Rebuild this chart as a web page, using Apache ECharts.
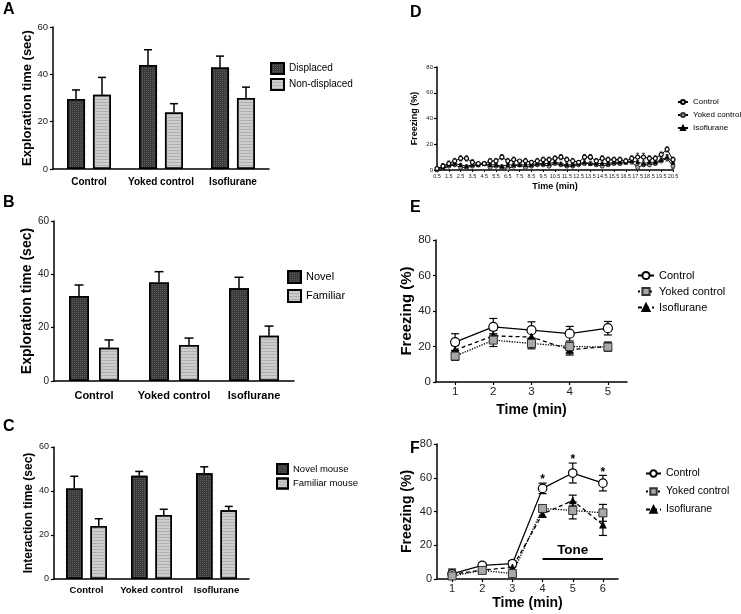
<!DOCTYPE html>
<html><head><meta charset="utf-8">
<script src="https://cdn.jsdelivr.net/npm/echarts@6/dist/echarts.min.js"></script>
<style>html,body{margin:0;padding:0;background:#fff}#c{width:741px;height:614px}</style>
</head><body><div id="c"></div>
<script>
const FONT = '"Liberation Sans", Arial, sans-serif';

// ---- Panels A-C (bar charts) ----
const groupCats = ['Control', 'Yoked control', 'Isoflurane'];
const dispA = [29.6, 43.9, 42.9];
const dispErrA = [3.8, 6.5, 4.8];
const nonA = [31.4, 23.9, 30.0];
const nonErrA = [7.3, 3.7, 4.6];

const novelB = [31.9, 36.9, 34.8];
const novelErrB = [4.1, 4.1, 4.1];
const famB = [12.5, 13.5, 17.0];
const famErrB = [2.9, 2.6, 3.6];

const novelC = [41.1, 46.9, 48.1];
const novelErrC = [5.6, 2.0, 2.9];
const famC = [24.1, 29.1, 31.2];
const famErrC = [3.3, 2.6, 1.8];

// ---- Panel D ----
const timeD = ['0.5','1','1.5','2','2.5','3','3.5','4','4.5','5','5.5','6','6.5','7','7.5','8','8.5','9','9.5','10','10.5','11','11.5','12','12.5','13','13.5','14','14.5','15','15.5','16','16.5','17','17.5','18','18.5','19','19.5','20','20.5'];
const ctrlD = [1,3,5,7,9,9,6,5,5,7,7,10,7,8,7,7,6,7,8,8,9,10,8,7,6,10,10,7,9,8,8,8,7,9,10,10,9,9,12,16,8];
const ctrlErrD = [1,2,2,2,2,2,2,1,1,2,2,2,2,2,1,2,1,2,2,2,2,2,2,2,1,2,2,2,2,2,2,2,2,2,3,3,2,2,2,2,2];
const yokD = [0,1,3,4,2,2,3,4,5,2,3,2,1,3,4,2,3,4,4,3,5,4,3,3,4,5,5,4,3,4,5,5,6,6,2,4,4,5,7,9,3];
const yokErrD = [1,1,1,1,1,1,1,1,1,1,1,1,1,1,1,1,1,1,1,1,1,1,1,1,1,1,1,1,1,1,1,1,1,1,1,1,1,1,1,2,2];
const isoD = [1,2,4,5,4,3,4,4,5,4,4,3,4,4,4,4,4,5,5,5,6,5,4,4,5,6,5,5,5,5,6,6,6,7,6,5,6,6,8,10,6];
const isoErrD = [1,1,1,1,1,1,1,1,1,1,1,1,1,1,1,1,1,1,1,1,1,1,1,1,1,1,1,1,1,1,1,1,1,1,1,1,1,1,1,2,2];

// ---- Panel E ----
const timeE = ['1','2','3','4','5'];
const ctrlE = [22.5, 31.1, 29.2, 27.2, 30.3];
const ctrlErrE = [4.7, 4.7, 4.7, 4.1, 3.8];
const yokE = [14.6, 23.6, 21.7, 20.0, 19.7];
const yokErrE = [2.4, 3.6, 3.0, 2.2, 2.2];
const isoE = [18.0, 26.0, 25.3, 18.2, 20.0];
const isoErrE = [2.5, 3.0, 3.0, 3.0, 2.5];

// ---- Panel F ----
const timeF = ['1','2','3','4','5','6'];
const ctrlF = [3.0, 8.1, 9.1, 53.7, 62.8, 56.8];
const ctrlErrF = [2.9, 1.6, 1.8, 3.1, 5.9, 4.6];
const yokF = [1.8, 5.1, 3.2, 41.8, 40.6, 39.2];
const yokErrF = [1.5, 1.5, 1.5, 2.0, 5.0, 5.0];
const isoF = [2.8, 5.3, 6.9, 38.6, 46.5, 32.1];
const isoErrF = [2.0, 1.5, 3.0, 2.0, 3.2, 6.3];
const starsF = ['', '', '', '*', '*', '*'];
const toneLevel = 12;

const chart = echarts.init(document.getElementById('c'), null, {renderer: 'canvas'});

const darkStyle = {
  color: '#3a3a3a', borderColor: '#000', borderWidth: 1.5,
  decal: {symbol: 'rect', symbolSize: 1, color: 'rgba(255,255,255,0.18)', dashArrayX: [1, 1], dashArrayY: [1, 1], rotation: 0}
};
const lightStyle = {
  color: '#cdcdcd', borderColor: '#000', borderWidth: 1.5,
  decal: {symbol: 'rect', symbolSize: 1, color: 'rgba(120,120,120,0.35)', dashArrayX: [1, 0], dashArrayY: [1, 2], rotation: 0}
};

function errSeries(ai, vals, errs, off, opts) {
  return {
    type: 'custom', xAxisIndex: ai, yAxisIndex: ai, z: opts.z || 3, silent: true,
    data: vals.map((v, i) => [i, v, errs[i]]),
    renderItem: function (params, api) {
      const i = api.value(0), v = api.value(1), e = api.value(2);
      const p = api.coord([i, v]);
      const x = p[0] + off, yv = p[1];
      const yt = api.coord([i, v + e])[1];
      const yb = api.coord([i, v - e])[1];
      const c = opts.cap;
      const st = {stroke: '#000', lineWidth: opts.lw || 1.5};
      const ch = [
        {type: 'line', shape: {x1: x, y1: yv, x2: x, y2: yt}, style: st},
        {type: 'line', shape: {x1: x - c, y1: yt, x2: x + c, y2: yt}, style: st}
      ];
      if (opts.both) {
        ch.push({type: 'line', shape: {x1: x, y1: yv, x2: x, y2: yb}, style: st});
        ch.push({type: 'line', shape: {x1: x - c, y1: yb, x2: x + c, y2: yb}, style: st});
      }
      if (opts.stars && opts.stars[params.dataIndex]) {
        ch.push({type: 'text', style: {text: opts.stars[params.dataIndex], x: x, y: yt + 3, align: 'center', verticalAlign: 'bottom', font: 'bold 12px ' + FONT, fill: '#000'}});
      }
      return {type: 'group', children: ch};
    }
  };
}

const axisLineS = {show: true, lineStyle: {color: '#000', width: 1.5}};
function barX(gi, fs, margin) {
  return {type: 'category', gridIndex: gi, data: groupCats, axisLine: axisLineS, axisTick: {show: false},
    axisLabel: {fontFamily: FONT, fontSize: fs, fontWeight: 'bold', color: '#000', margin: margin, interval: 0}, splitLine: {show: false}};
}
function valY(gi, max, name, nfs, gap, lfs) {
  return {type: 'value', gridIndex: gi, min: 0, max: max, interval: 20, axisLine: axisLineS,
    axisTick: {show: true, length: 3, lineStyle: {color: '#000', width: 1.2}},
    axisLabel: {fontFamily: FONT, fontSize: lfs, color: '#222', margin: 5},
    splitLine: {show: false},
    name: name, nameLocation: 'middle', nameGap: gap,
    nameTextStyle: {fontFamily: FONT, fontSize: nfs, fontWeight: 'bold', color: '#000'}};
}
function timeX(gi, cats, lfs, nfs, gap, boundary, extra) {
  return Object.assign({type: 'category', gridIndex: gi, data: cats, boundaryGap: boundary, axisLine: axisLineS,
    axisTick: {show: true, alignWithLabel: true, length: 3, lineStyle: {color: '#000', width: 1.2}},
    axisLabel: {fontFamily: FONT, fontSize: lfs, color: '#222', margin: 4, interval: 0},
    splitLine: {show: false},
    name: 'Time (min)', nameLocation: 'middle', nameGap: gap,
    nameTextStyle: {fontFamily: FONT, fontSize: nfs, fontWeight: 'bold', color: '#000'}}, extra || {});
}

function lineS(name, ai, data, kind, size, lw) {
  const base = {type: 'line', name: name, xAxisIndex: ai, yAxisIndex: ai, data: data, z: 4,
    showAllSymbol: true, symbolSize: size, silent: true};
  if (kind === 'ctrl') {
    base.symbol = 'circle';
    base.itemStyle = {color: '#fff', borderColor: '#000', borderWidth: 1.2};
    base.lineStyle = {color: '#000', width: lw, type: 'solid'};
  } else if (kind === 'yok') {
    base.symbol = ai === 3 ? 'circle' : 'rect';
    base.itemStyle = {color: '#a8a8a8', borderColor: '#333', borderWidth: 1};
    base.lineStyle = {color: '#000', width: lw, type: ai === 3 ? 'solid' : 'dotted'};
  } else {
    base.symbol = 'triangle';
    base.itemStyle = {color: '#000', borderColor: '#000', borderWidth: 0.5};
    base.lineStyle = {color: '#000', width: lw, type: ai === 3 ? 'solid' : [4, 3]};
  }
  return base;
}

function barLegend(names, left, top, iw, ih, gap, fs) {
  return {data: names, orient: 'vertical', left: left, top: top, itemWidth: iw, itemHeight: ih, itemGap: gap,
    icon: 'rect', padding: 0, selectedMode: false,
    textStyle: {fontFamily: FONT, fontSize: fs, color: '#000'}};
}
function lineLegend(prefix, left, top, iw, ih, gap, fs) {
  return {data: [prefix + ':Control', prefix + ':Yoked control', prefix + ':Isoflurane'],
    formatter: n => n.slice(2), orient: 'vertical', left: left, top: top, itemWidth: iw, itemHeight: ih,
    itemGap: gap, padding: 0, selectedMode: false,
    textStyle: {fontFamily: FONT, fontSize: fs, color: '#000'}};
}

const option = {
  backgroundColor: '#fff',
  animation: false,
  textStyle: {fontFamily: FONT},
  grid: [
    {left: 53, top: 27, width: 216, height: 142, outerBoundsMode: 'none'},
    {left: 54, top: 221, width: 240, height: 160, outerBoundsMode: 'none'},
    {left: 54, top: 447, width: 195, height: 132, outerBoundsMode: 'none'},
    {left: 437, top: 67, width: 236, height: 103, outerBoundsMode: 'none'},
    {left: 436, top: 240, width: 191, height: 142, outerBoundsMode: 'none'},
    {left: 437, top: 444, width: 181, height: 135, outerBoundsMode: 'none'}
  ],
  xAxis: [
    barX(0, 10, 8),
    barX(1, 11, 9),
    barX(2, 9.5, 6),
    timeX(3, timeD, 5.5, 9, 12, false, {axisLabel: {fontFamily: FONT, fontSize: 5.5, color: '#222', margin: 3, interval: 1}, axisTick: {show: true, interval: 1, length: 2, lineStyle: {color: '#000', width: 1}}}),
    timeX(4, timeE, 11.5, 14, 21, true),
    timeX(5, timeF, 11, 14, 17, true)
  ],
  yAxis: [
    valY(0, 60, 'Exploration time (sec)', 13, 19, 9.5),
    valY(1, 60, 'Exploration time (sec)', 14, 17, 10),
    valY(2, 60, 'Interaction time (sec)', 12, 19.5, 9),
    Object.assign(valY(3, 80, 'Freezing (%)', 9, 18, 6), {axisLabel: {fontFamily: FONT, fontSize: 6, color: '#222', margin: 4}}),
    valY(4, 80, 'Freezing (%)', 15, 22, 11.5),
    valY(5, 80, 'Freezing (%)', 14, 23, 11)
  ],
  legend: [
    barLegend(['Displaced', 'Non-displaced'], 270, 62, 13, 11, 3, 10),
    barLegend(['Novel', 'Familiar'], 287, 270, 13, 12, 5, 11),
    barLegend(['Novel mouse', 'Familiar mouse'], 276, 463, 11, 10, 2.5, 9.5),
    lineLegend('D', 677, 98, 10, 5, 5, 8),
    lineLegend('E', 637, 270, 16, 9, 5, 11),
    lineLegend('F', 645, 468, 15, 8, 7, 10.5)
  ],
  graphic: [
    {type: 'text', style: {text: 'A', x: 3, y: 10, verticalAlign: 'middle', font: 'bold 16px ' + FONT, fill: '#000'}},
    {type: 'text', style: {text: 'B', x: 3, y: 202.5, verticalAlign: 'middle', font: 'bold 16px ' + FONT, fill: '#000'}},
    {type: 'text', style: {text: 'C', x: 3, y: 427, verticalAlign: 'middle', font: 'bold 16px ' + FONT, fill: '#000'}},
    {type: 'text', style: {text: 'D', x: 410, y: 13, verticalAlign: 'middle', font: 'bold 16px ' + FONT, fill: '#000'}},
    {type: 'text', style: {text: 'E', x: 410, y: 208, verticalAlign: 'middle', font: 'bold 16px ' + FONT, fill: '#000'}},
    {type: 'text', style: {text: 'F', x: 410, y: 449, verticalAlign: 'middle', font: 'bold 16px ' + FONT, fill: '#000'}}
  ],
  series: [
    // A
    {type: 'bar', name: 'Displaced', xAxisIndex: 0, yAxisIndex: 0, data: dispA, barWidth: 18, barGap: '44%', itemStyle: darkStyle, silent: true},
    {type: 'bar', name: 'Non-displaced', xAxisIndex: 0, yAxisIndex: 0, data: nonA, barWidth: 18, barGap: '44%', itemStyle: lightStyle, silent: true},
    errSeries(0, dispA, dispErrA, -13, {cap: 4}),
    errSeries(0, nonA, nonErrA, 13, {cap: 4}),
    // B
    {type: 'bar', name: 'Novel', xAxisIndex: 1, yAxisIndex: 1, data: novelB, barWidth: 20, barGap: '50%', itemStyle: darkStyle, silent: true},
    {type: 'bar', name: 'Familiar', xAxisIndex: 1, yAxisIndex: 1, data: famB, barWidth: 20, barGap: '50%', itemStyle: lightStyle, silent: true},
    errSeries(1, novelB, novelErrB, -15, {cap: 4.5}),
    errSeries(1, famB, famErrB, 15, {cap: 4.5}),
    // C
    {type: 'bar', name: 'Novel mouse', xAxisIndex: 2, yAxisIndex: 2, data: novelC, barWidth: 16.5, barGap: '48%', itemStyle: darkStyle, silent: true},
    {type: 'bar', name: 'Familiar mouse', xAxisIndex: 2, yAxisIndex: 2, data: famC, barWidth: 16.5, barGap: '48%', itemStyle: lightStyle, silent: true},
    errSeries(2, novelC, novelErrC, -12.25, {cap: 4}),
    errSeries(2, famC, famErrC, 12.25, {cap: 4}),
    // D
    errSeries(3, ctrlD, ctrlErrD, 0, {cap: 1.5, lw: 0.8, both: true, z: 2}),
    errSeries(3, yokD, yokErrD, 0, {cap: 1.5, lw: 0.8, both: true, z: 2}),
    errSeries(3, isoD, isoErrD, 0, {cap: 1.5, lw: 0.8, both: true, z: 2}),
    lineS('D:Yoked control', 3, yokD, 'yok', 4, 1),
    lineS('D:Isoflurane', 3, isoD, 'iso', 4, 1),
    lineS('D:Control', 3, ctrlD, 'ctrl', 4, 1),
    // E
    errSeries(4, ctrlE, ctrlErrE, 0, {cap: 4, lw: 1.2, both: true, z: 2}),
    errSeries(4, yokE, yokErrE, 0, {cap: 4, lw: 1.2, both: true, z: 2}),
    errSeries(4, isoE, isoErrE, 0, {cap: 4, lw: 1.2, both: true, z: 2}),
    lineS('E:Control', 4, ctrlE, 'ctrl', 9, 1.3),
    lineS('E:Isoflurane', 4, isoE, 'iso', 8, 1.3),
    lineS('E:Yoked control', 4, yokE, 'yok', 8, 1.3),
    // F
    errSeries(5, ctrlF, ctrlErrF, 0, {cap: 4, lw: 1.2, both: true, z: 2, stars: starsF}),
    errSeries(5, yokF, yokErrF, 0, {cap: 4, lw: 1.2, both: true, z: 2}),
    errSeries(5, isoF, isoErrF, 0, {cap: 4, lw: 1.2, both: true, z: 2}),
    lineS('F:Control', 5, ctrlF, 'ctrl', 8.5, 1.3),
    lineS('F:Isoflurane', 5, isoF, 'iso', 7, 1.3),
    Object.assign(lineS('F:Yoked control', 5, yokF, 'yok', 8, 1.3), {
      markLine: {
        silent: true, symbol: 'none', animation: false,
        lineStyle: {color: '#000', width: 1.8, type: 'solid'},
        label: {show: true, formatter: 'Tone', position: 'insideMiddleTop', distance: 1,
          fontFamily: FONT, fontSize: 13.5, fontWeight: 'bold', color: '#000'},
        emphasis: {disabled: true},
        data: [[{coord: [3, toneLevel]}, {coord: [5, toneLevel]}]]
      }
    })
  ]
};
chart.setOption(option);
</script>
</body></html>
